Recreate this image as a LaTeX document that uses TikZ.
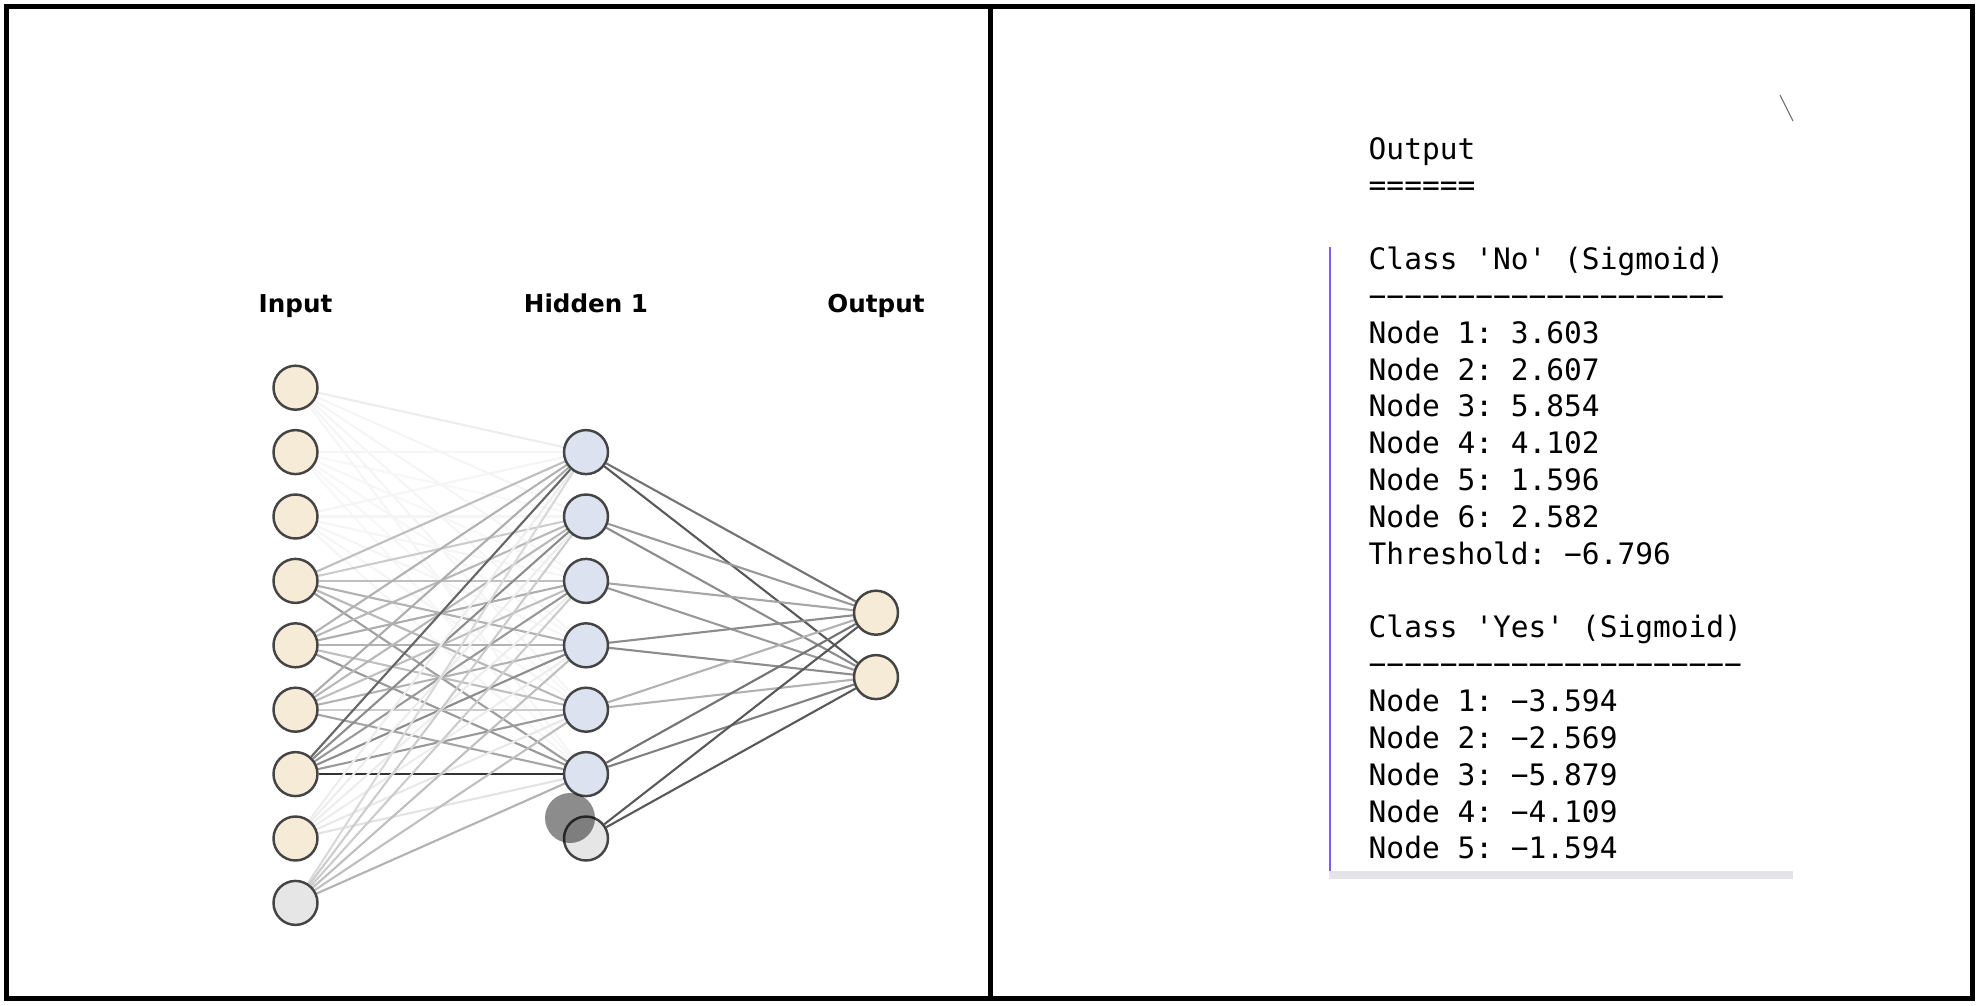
\documentclass[tikz,border=0pt]{standalone}
\usepackage{fontspec}
\setmonofont{DejaVu Sans Mono}
\newfontfamily\labelfont{DejaVu Sans}
\usetikzlibrary{positioning, backgrounds}
\definecolor{InputCream}{HTML}{F6EBD6}
\definecolor{HiddenBlue}{HTML}{DDE2F1}
\definecolor{BiasGray}{HTML}{E6E6E6}
\definecolor{RimGray}{HTML}{444444}
\definecolor{BarPurple}{HTML}{7D5CF2}
\definecolor{BarGray}{HTML}{E4E4E8}

\tikzset{
    neuron/.style={circle, draw=RimGray, line width=0.7pt,
                   minimum size=4.4mm, inner sep=0pt},
    layerlabel/.style={font=\labelfont\bfseries\fontsize{7}{8}\selectfont,
                       anchor=base},
    outline/.style={font=\ttfamily\fontsize{8.4}{10.4}\selectfont,
                    anchor=base west, inner sep=0pt},
    synapse/.style={line width=0.6pt}
}

\begin{document}
\begin{tikzpicture}[x=0.1mm, y=-0.1mm]
    \useasboundingbox (0,0) rectangle (1980,1006);
    % frame and divider
    \draw[line width=0.5mm] (6.5,6.5) rectangle (1972,998);
    \draw[line width=0.5mm] (990,6.5) -- (990,998);

    % network nodes
    \foreach \i in {1,...,8}
        \node[neuron, fill=InputCream] (in\i) at (295.5, {387.7+(\i-1)*64.4}) {};
    \node[neuron, fill=BiasGray] (in9) at (295.5, 902.9) {};
    \foreach \j in {1,...,6}
        \node[neuron, fill=HiddenBlue] (hid\j) at (586, {387.7+\j*64.4}) {};
    \node[neuron, fill=BiasGray] (hid7) at (586, 838.5) {};
    \node[neuron, fill=InputCream] (out1) at (876, 612.7) {};
    \node[neuron, fill=InputCream] (out2) at (876, 677.1) {};

    \node[layerlabel] (lblin)  at (295.5, 312) {Input};
    \node[layerlabel] (lblhid) at (586, 312) {Hidden 1};
    \node[layerlabel] (lblout) at (876, 312) {Output};

    % weighted connections
    \begin{scope}[on background layer]
        \foreach \i/\row in {1/{7,4,4,4,4,4}, 2/{4,3,3,3,3,3}, 3/{4,4,4,4,4,4},
                             4/{25,20,25,30,28,38}, 5/{30,28,32,30,25,40},
                             6/{32,28,25,30,20,35}, 7/{60,45,40,45,40,80},
                             8/{7,7,7,7,9,11}, 9/{15,20,20,25,25,30}}
            \foreach \w [count=\j] in \row
                \draw[synapse, black!\w] (in\i) -- (hid\j);
        \foreach \j/\wa/\wb in {1/55/65, 2/40/45, 3/35/40, 4/45/45,
                                5/30/30, 6/55/50, 7/65/65} {
            \draw[synapse, black!\wa] (hid\j) -- (out1);
            \draw[synapse, black!\wb] (hid\j) -- (out2);
        }
    \end{scope}

    % cursor shadow
    \fill[black, opacity=0.45] (570,818) circle (25);

    % printed output
    \draw[BarPurple, line width=0.2mm] (1330,247) -- (1330,872);
    \fill[BarGray] (1329,871) rectangle (1793,879);
    \draw[black!60, line width=0.3pt] (1780,95) -- (1793,121);
    \foreach \row/\txt in {0/Output, 1/{======}, 3/{Class 'No' (Sigmoid)},
                           4/{−−−−−−−−−−−−−−−−−−−−}, 5/{Node 1: 3.603},
                           6/{Node 2: 2.607}, 7/{Node 3: 5.854},
                           8/{Node 4: 4.102}, 9/{Node 5: 1.596},
                           10/{Node 6: 2.582}, 11/{Threshold: −6.796},
                           13/{Class 'Yes' (Sigmoid)},
                           14/{−−−−−−−−−−−−−−−−−−−−−}, 15/{Node 1: −3.594},
                           16/{Node 2: −2.569}, 17/{Node 3: −5.879},
                           18/{Node 4: −4.109}, 19/{Node 5: −1.594}}
        \node[outline] (txt\row) at (1368, {159+\row*36.84}) {\txt};
\end{tikzpicture}
\end{document}
